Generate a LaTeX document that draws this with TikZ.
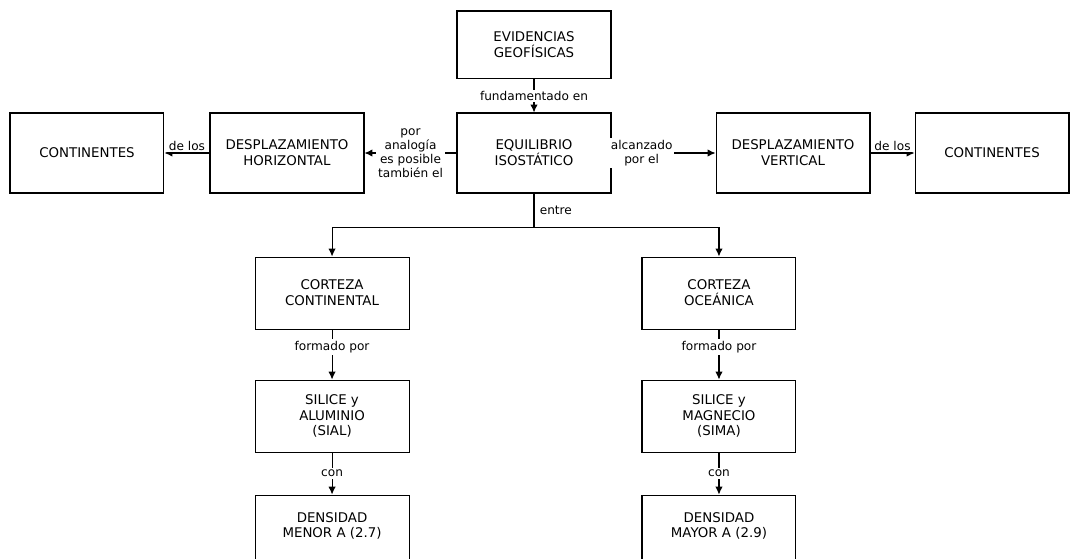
\documentclass[tikz,border=0pt]{standalone}
\usepackage{fontspec}
\setmainfont{DejaVu Sans}
\usetikzlibrary{positioning,arrows.meta}

\begin{document}
\begin{tikzpicture}[x=0.02cm,y=-0.02cm,>={Latex[length=4.5pt,width=4.2pt]},line width=0.6pt,
    box/.style={draw, minimum width=3.08cm, minimum height=1.6cm, align=center,
        inner sep=2pt, font=\fontsize{7.6}{9}\selectfont},
    lbl/.style={fill=white, inner sep=1pt, align=center,
        font=\fontsize{6.9}{8}\selectfont}]
    \useasboundingbox (0,0) rectangle (1070,558);
        \node (equil) [box] at (534,153) {EQUILIBRIO\\ISOST\'ATICO};
        \node (evid) [box, minimum height=1.36cm, above=0.66cm of equil] {EVIDENCIAS\\GEOF\'ISICAS};
        \node (desph) [box, left=1.84cm of equil] {DESPLAZAMIENTO\\HORIZONTAL};
        \node (contl) [box, left=0.9cm of desph] {CONTINENTES};
        \node (despv) [box, right=2.08cm of equil] {DESPLAZAMIENTO\\VERTICAL};
        \node (contr) [box, right=0.88cm of despv] {CONTINENTES};
        \node (cortc) [box, minimum height=1.44cm, below=1.26cm of equil, xshift=-4.04cm] {CORTEZA\\CONTINENTAL};
        \node (corto) [box, minimum height=1.44cm, below=1.26cm of equil, xshift=3.7cm] {CORTEZA\\OCE\'ANICA};
        \node (silc) [box, minimum height=1.44cm, below=1cm of cortc] {SILICE y\\ALUMINIO\\(SIAL)};
        \node (silo) [box, minimum height=1.44cm, below=1cm of corto] {SILICE y\\MAGNECIO\\(SIMA)};
        % cut off at the bottom of the page, as in the scan
        \node (densc) [box, minimum height=1.7cm, below=0.84cm of silc, text depth=0.5cm] {DENSIDAD\\MENOR A (2.7)};
        \node (denso) [box, minimum height=1.7cm, below=0.84cm of silo, text depth=0.5cm] {DENSIDAD\\MAYOR A (2.9)};
        \draw[->] (evid) -- node[lbl]{fundamentado en} (equil);
        \draw[->] (equil) -- node[lbl]{por\\analog\'ia\\es posible\\tambi\'en el} (desph);
        \draw[->] (desph) -- node[lbl, above]{de los} (contl);
        \draw[->] (equil) -- node[lbl, pos=0.29]{alcanzado\\por el} (despv);
        \draw[->] (despv) -- node[lbl, above]{de los} (contr);
        \draw (equil.south) -- node[lbl, right, fill=none, inner sep=3pt]{entre} ++(0,34) coordinate (split);
        \draw[->] (split) -| (cortc);
        \draw[->] (split) -| (corto);
        \draw[->] (cortc) -- node[lbl, pos=0.35]{formado por} (silc);
        \draw[->] (corto) -- node[lbl, pos=0.35]{formado por} (silo);
        \draw[->] (silc) -- node[lbl]{con} (densc);
        \draw[->] (silo) -- node[lbl]{con} (denso);
    \end{tikzpicture}
\end{document}
